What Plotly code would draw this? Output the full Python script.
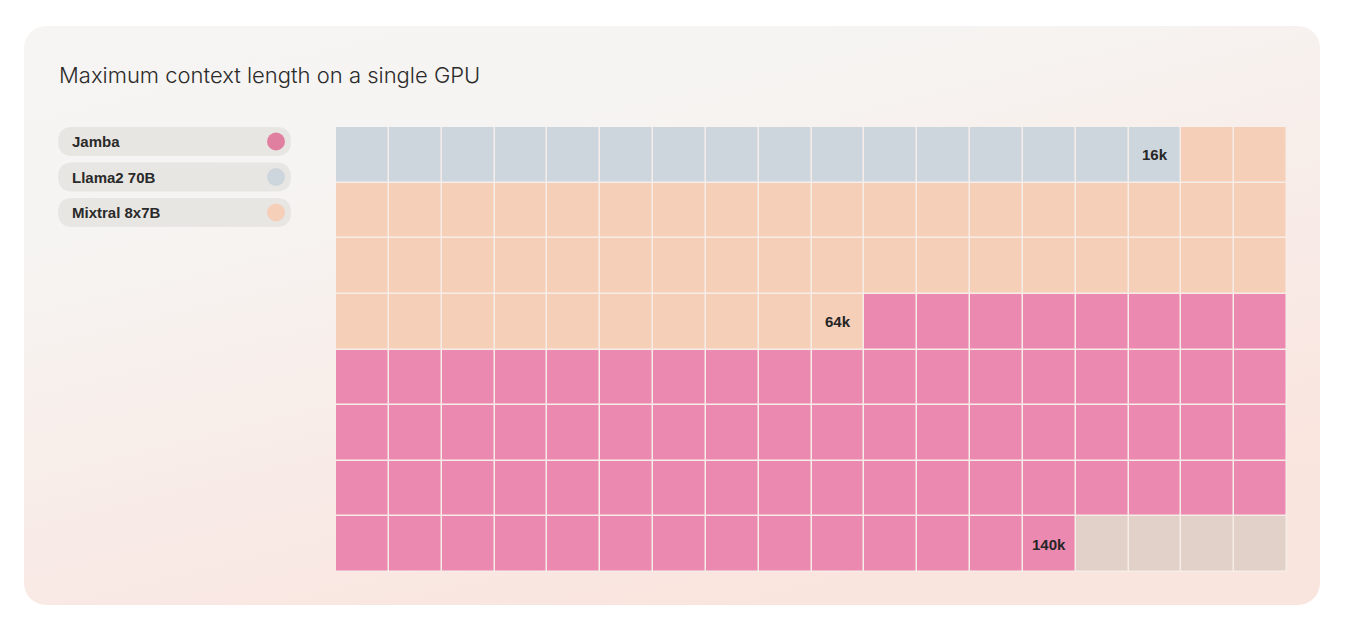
import base64
import plotly.graph_objects as go

# ---- data ----
models = ["Jamba", "Llama2 70B", "Mixtral 8x7B"]
context_k = [140, 16, 64]          # max context length (k tokens)
model_colors = ["#ec89b0", "#cdd5dd", "#f5cfb8"]
legend_dot_colors = ["#e07fa0", "#cdd5dd", "#f5cfb8"]
empty_color = "#e2d1c8"
n_cols = 18
n_rows = 8
title_text = "Maximum context length on a single GPU"

OFF = 8  # page body margin
W, H = 1340, 616
L, T = 336 - OFF, 127 - OFF
R = W - (1287 - OFF)
B = H - (572 - OFF)
PW, PH = W - L - R, H - T - B


def px(x):
    return (x - OFF - L) / PW


def py(y):
    return (H - B - (y - OFF)) / PH


# build grid: each cell = 1k; smaller models drawn on top of larger ones
order = sorted(range(len(models)), key=lambda i: context_k[i])  # ascending
z = []
for r in range(n_rows):
    row = []
    for c in range(n_cols):
        idx = r * n_cols + c
        code = 3  # empty
        for i in order:
            if idx < context_k[i]:
                code = i
                break
        row.append(code)
    z.append(row)

colors_by_code = model_colors + [empty_color]
colorscale = []
for k, col in enumerate(colors_by_code):
    colorscale.append([k / 4, col])
    colorscale.append([(k + 1) / 4, col])

fig = go.Figure()
fig.add_trace(go.Heatmap(
    z=z, x=list(range(n_cols)), y=list(range(n_rows)),
    zmin=-0.5, zmax=3.5, colorscale=colorscale, showscale=False,
    xgap=1.5, ygap=1.5, hoverinfo="skip",
))

# card background (rounded, gradient) as SVG image
cw, ch = 1320 - 24, 605 - 26
svg = f'''<svg xmlns="http://www.w3.org/2000/svg" width="{cw}" height="{ch}" viewBox="0 0 {cw} {ch}" preserveAspectRatio="none">
<defs><linearGradient id="g" x1="0" y1="0" x2="0.55" y2="1">
<stop offset="0" stop-color="#f6f5f3"/><stop offset="0.3" stop-color="#f6f4f2"/><stop offset="1" stop-color="#fae4de"/>
</linearGradient></defs>
<rect x="0" y="0" width="{cw}" height="{ch}" rx="22" ry="22" fill="url(#g)"/></svg>'''
src = "data:image/svg+xml;base64," + base64.b64encode(svg.encode()).decode()
images = [dict(source=src, xref="paper", yref="paper", x=px(24), y=py(26),
               sizex=cw / PW, sizey=ch / PH, sizing="stretch",
               xanchor="left", yanchor="top", layer="below")]

shapes = [dict(type="rect", xref="paper", yref="paper", x0=0, x1=1, y0=0, y1=1,
               fillcolor="#f6ede9", line=dict(width=0), layer="below")]
annotations = []

LABEL_FONT = "Liberation Sans, Arial, sans-serif"

# value labels on last cell of each model
for i, v in enumerate(context_k):
    idx = v - 1
    annotations.append(dict(x=idx % n_cols, y=idx // n_cols, xref="x", yref="y",
                            text=f"<b>{v}k</b>", showarrow=False,
                            font=dict(size=15, color="#262626", family=LABEL_FONT)))

# legend pills
pill_tops = [127, 162.5, 198]
pill_h = 29
x0p, x1p = 58, 291
rad = pill_h / 2


def pill_path(x0, y0, x1, y1, r):
    X = lambda v: px(v)
    Y = lambda v: py(v)
    return (f"M {X(x0 + r)},{Y(y0)} L {X(x1 - r)},{Y(y0)} "
            f"Q {X(x1)},{Y(y0)} {X(x1)},{Y((y0 + y1) / 2)} "
            f"Q {X(x1)},{Y(y1)} {X(x1 - r)},{Y(y1)} "
            f"L {X(x0 + r)},{Y(y1)} "
            f"Q {X(x0)},{Y(y1)} {X(x0)},{Y((y0 + y1) / 2)} "
            f"Q {X(x0)},{Y(y0)} {X(x0 + r)},{Y(y0)} Z")


for i, name in enumerate(models):
    t = pill_tops[i]
    shapes.append(dict(type="path", xref="paper", yref="paper",
                       path=pill_path(x0p, t, x1p, t + pill_h, rad),
                       fillcolor="#e8e6e3", line=dict(width=0), layer="above"))
    cy = t + pill_h / 2
    cx = 276
    rr = 9
    shapes.append(dict(type="circle", xref="paper", yref="paper",
                       x0=px(cx - rr), x1=px(cx + rr), y0=py(cy + rr), y1=py(cy - rr),
                       fillcolor=legend_dot_colors[i], line=dict(width=0), layer="above"))
    annotations.append(dict(x=px(70), y=py(cy), xref="paper", yref="paper",
                            xanchor="left", yanchor="middle", text=f"<b>{name}</b>",
                            showarrow=False,
                            font=dict(size=15, color="#2a2a2a", family=LABEL_FONT)))

# title
annotations.append(dict(x=px(57), y=py(75), xref="paper", yref="paper",
                        xanchor="left", yanchor="middle", text=title_text, showarrow=False,
                        font=dict(size=22, color="#2b2b2b", family="Inter, Liberation Sans, sans-serif", weight=300)))

fig.update_layout(
    width=W, height=H, margin=dict(l=L, r=R, t=T, b=B, pad=0),
    paper_bgcolor="#ffffff", plot_bgcolor="rgba(0,0,0,0)",
    xaxis=dict(visible=False, range=[-0.5, n_cols - 0.5], fixedrange=True),
    yaxis=dict(visible=False, range=[n_rows - 0.5, -0.5], fixedrange=True),
    images=images, shapes=shapes, annotations=annotations, showlegend=False,
)

fig.write_html("out.html")
